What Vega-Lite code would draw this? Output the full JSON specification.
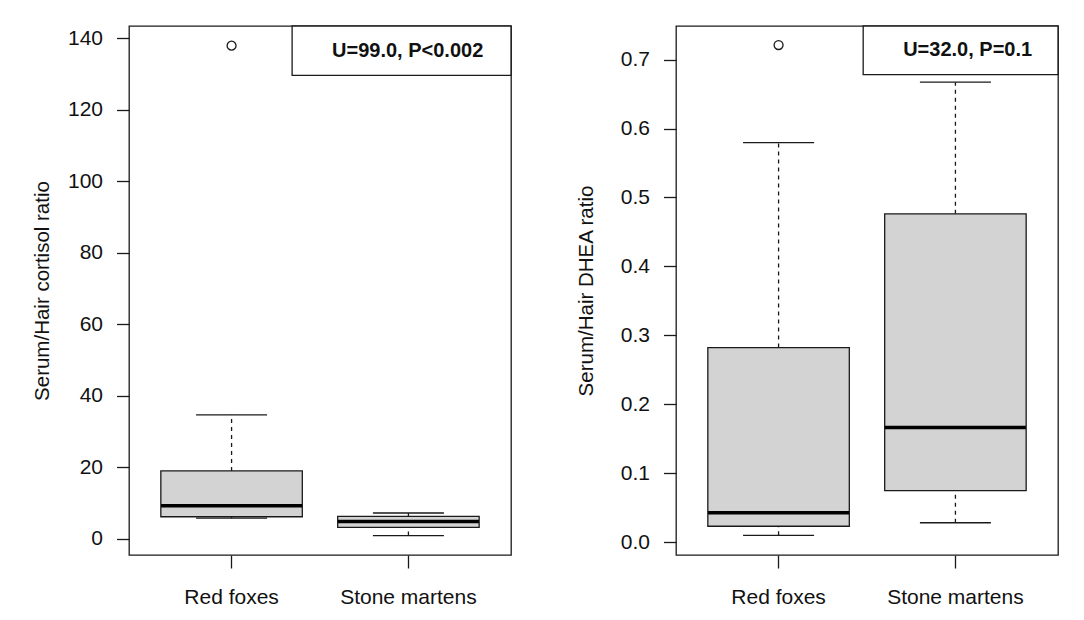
{
  "$schema": "https://vega.github.io/schema/vega-lite/v6.json",
  "background": "white",
  "padding": {"left": 31, "top": 24, "right": 0, "bottom": 0},
  "spacing": 63,
  "config": {
    "font": "Liberation Sans",
    "view": {"stroke": "#1a1a1a", "strokeWidth": 1.3},
    "tick": {"opacity": 1},
    "point": {"opacity": 1},
    "axis": {
      "domain": false, "grid": false, "tickColor": "#1a1a1a", "tickWidth": 1.3,
      "labelColor": "#111", "titleColor": "#111", "labelFontSize": 21, "titleFontSize": 20.5,
      "titleFontWeight": "normal", "labelFont": "Liberation Sans", "titleFont": "Liberation Sans"
    }
  },
  "datasets": {
    "cortisol": [
      {"group": "Red foxes", "lower": 5.8, "q1": 6.2, "median": 9.3, "q3": 19.0, "upper": 34.7},
      {"group": "Stone martens", "lower": 0.92, "q1": 3.24, "median": 4.84, "q3": 6.32, "upper": 7.24}
    ],
    "cortisol_out": [
      {"group": "Red foxes", "value": 137.9}
    ],
    "dhea": [
      {"group": "Red foxes", "lower": 0.0097, "q1": 0.0229, "median": 0.0424, "q3": 0.2822, "upper": 0.5795},
      {"group": "Stone martens", "lower": 0.028, "q1": 0.0746, "median": 0.1663, "q3": 0.4763, "upper": 0.6673}
    ],
    "dhea_out": [
      {"group": "Red foxes", "value": 0.7212}
    ]
  },
  "hconcat": [
    {
      "width": 382,
      "height": 529,
      "resolve": {"scale": {"x": "independent"}},
      "layer": [
        {
          "layer": [
            {
              "data": {"name": "cortisol"},
              "mark": {"type": "rule", "strokeDash": [4, 4], "color": "#1a1a1a", "strokeWidth": 1.3},
              "encoding": {
                "x": {"field": "group", "type": "nominal", "scale": {"domain": ["Red foxes", "Stone martens"], "paddingInner": 0.2, "paddingOuter": 0.18}, "axis": {"title": null, "labelAngle": 0, "tickSize": 13, "labelPadding": 18}},
                "y": {"field": "q3", "type": "quantitative", "title": "Serum/Hair cortisol ratio", "scale": {"domain": [-4.5, 143.4], "nice": false, "zero": false}, "axis": {"values": [0, 20, 40, 60, 80, 100, 120, 140], "format": "d", "tickSize": 12.5, "labelPadding": 14, "titlePadding": 15}},
                "y2": {"field": "upper"}
              }
            },
            {
              "data": {"name": "cortisol"},
              "mark": {"type": "rule", "strokeDash": [4, 4], "color": "#1a1a1a", "strokeWidth": 1.3},
              "encoding": {
                "x": {"field": "group", "type": "nominal"},
                "y": {"field": "lower", "type": "quantitative", "title": "Serum/Hair cortisol ratio"},
                "y2": {"field": "q1"}
              }
            },
            {
              "data": {"name": "cortisol"},
              "mark": {"type": "tick", "size": 71, "thickness": 1.3, "color": "#1a1a1a"},
              "encoding": {
                "x": {"field": "group", "type": "nominal"},
                "y": {"field": "upper", "type": "quantitative", "title": "Serum/Hair cortisol ratio"}
              }
            },
            {
              "data": {"name": "cortisol"},
              "mark": {"type": "tick", "size": 71, "thickness": 1.3, "color": "#1a1a1a"},
              "encoding": {
                "x": {"field": "group", "type": "nominal"},
                "y": {"field": "lower", "type": "quantitative", "title": "Serum/Hair cortisol ratio"}
              }
            },
            {
              "data": {"name": "cortisol"},
              "mark": {"type": "bar", "fill": "#d3d3d3", "stroke": "#1a1a1a", "strokeWidth": 1.3},
              "encoding": {
                "x": {"field": "group", "type": "nominal"},
                "y": {"field": "q1", "type": "quantitative", "title": "Serum/Hair cortisol ratio"},
                "y2": {"field": "q3"}
              }
            },
            {
              "data": {"name": "cortisol"},
              "mark": {"type": "tick", "size": 141, "thickness": 3.5, "color": "#000"},
              "encoding": {
                "x": {"field": "group", "type": "nominal"},
                "y": {"field": "median", "type": "quantitative", "title": "Serum/Hair cortisol ratio"}
              }
            },
            {
              "data": {"name": "cortisol_out"},
              "mark": {"type": "point", "shape": "circle", "filled": false, "size": 80, "stroke": "#1a1a1a", "strokeWidth": 1.3},
              "encoding": {
                "x": {"field": "group", "type": "nominal"},
                "y": {"field": "value", "type": "quantitative", "title": "Serum/Hair cortisol ratio"}
              }
            }
          ]
        },
        {
          "data": {"values": [{"label": "U=99.0, P<0.002"}]},
          "layer": [
            {
              "mark": {"type": "rect", "fill": "white", "stroke": "#1a1a1a", "strokeWidth": 1.3},
              "encoding": {
                "x": {"datum": 0.427, "type": "quantitative", "scale": {"domain": [0, 1]}, "axis": null},
                "x2": {"datum": 1},
                "y": {"datum": 129.6, "type": "quantitative"},
                "y2": {"datum": 143.4}
              }
            },
            {
              "mark": {"type": "text", "fontWeight": "bold", "fontSize": 20, "color": "#111", "baseline": "middle", "align": "center"},
              "encoding": {
                "x": {"datum": 0.7295, "type": "quantitative"},
                "y": {"datum": 136.4, "type": "quantitative"},
                "text": {"field": "label"}
              }
            }
          ]
        }
      ]
    },
    {
      "width": 382,
      "height": 529,
      "resolve": {"scale": {"x": "independent"}},
      "layer": [
        {
          "layer": [
            {
              "data": {"name": "dhea"},
              "mark": {"type": "rule", "strokeDash": [4, 4], "color": "#1a1a1a", "strokeWidth": 1.3},
              "encoding": {
                "x": {"field": "group", "type": "nominal", "scale": {"domain": ["Red foxes", "Stone martens"], "paddingInner": 0.2, "paddingOuter": 0.18}, "axis": {"title": null, "labelAngle": 0, "tickSize": 13, "labelPadding": 18}},
                "y": {"field": "q3", "type": "quantitative", "title": "Serum/Hair DHEA ratio", "scale": {"domain": [-0.0188, 0.7488], "nice": false, "zero": false}, "axis": {"values": [0, 0.1, 0.2, 0.3, 0.4, 0.5, 0.6, 0.7], "format": ".1f", "tickSize": 12.5, "labelPadding": 14, "titlePadding": 23.5}},
                "y2": {"field": "upper"}
              }
            },
            {
              "data": {"name": "dhea"},
              "mark": {"type": "rule", "strokeDash": [4, 4], "color": "#1a1a1a", "strokeWidth": 1.3},
              "encoding": {
                "x": {"field": "group", "type": "nominal"},
                "y": {"field": "lower", "type": "quantitative", "title": "Serum/Hair DHEA ratio"},
                "y2": {"field": "q1"}
              }
            },
            {
              "data": {"name": "dhea"},
              "mark": {"type": "tick", "size": 71, "thickness": 1.3, "color": "#1a1a1a"},
              "encoding": {
                "x": {"field": "group", "type": "nominal"},
                "y": {"field": "upper", "type": "quantitative", "title": "Serum/Hair DHEA ratio"}
              }
            },
            {
              "data": {"name": "dhea"},
              "mark": {"type": "tick", "size": 71, "thickness": 1.3, "color": "#1a1a1a"},
              "encoding": {
                "x": {"field": "group", "type": "nominal"},
                "y": {"field": "lower", "type": "quantitative", "title": "Serum/Hair DHEA ratio"}
              }
            },
            {
              "data": {"name": "dhea"},
              "mark": {"type": "bar", "fill": "#d3d3d3", "stroke": "#1a1a1a", "strokeWidth": 1.3},
              "encoding": {
                "x": {"field": "group", "type": "nominal"},
                "y": {"field": "q1", "type": "quantitative", "title": "Serum/Hair DHEA ratio"},
                "y2": {"field": "q3"}
              }
            },
            {
              "data": {"name": "dhea"},
              "mark": {"type": "tick", "size": 141, "thickness": 3.5, "color": "#000"},
              "encoding": {
                "x": {"field": "group", "type": "nominal"},
                "y": {"field": "median", "type": "quantitative", "title": "Serum/Hair DHEA ratio"}
              }
            },
            {
              "data": {"name": "dhea_out"},
              "mark": {"type": "point", "shape": "circle", "filled": false, "size": 80, "stroke": "#1a1a1a", "strokeWidth": 1.3},
              "encoding": {
                "x": {"field": "group", "type": "nominal"},
                "y": {"field": "value", "type": "quantitative", "title": "Serum/Hair DHEA ratio"}
              }
            }
          ]
        },
        {
          "data": {"values": [{"label": "U=32.0, P=0.1"}]},
          "layer": [
            {
              "mark": {"type": "rect", "fill": "white", "stroke": "#1a1a1a", "strokeWidth": 1.3},
              "encoding": {
                "x": {"datum": 0.49, "type": "quantitative", "scale": {"domain": [0, 1]}, "axis": null},
                "x2": {"datum": 1},
                "y": {"datum": 0.6781, "type": "quantitative"},
                "y2": {"datum": 0.7488}
              }
            },
            {
              "mark": {"type": "text", "fontWeight": "bold", "fontSize": 20, "color": "#111", "baseline": "middle", "align": "center"},
              "encoding": {
                "x": {"datum": 0.7634, "type": "quantitative"},
                "y": {"datum": 0.7134, "type": "quantitative"},
                "text": {"field": "label"}
              }
            }
          ]
        }
      ]
    }
  ]
}
